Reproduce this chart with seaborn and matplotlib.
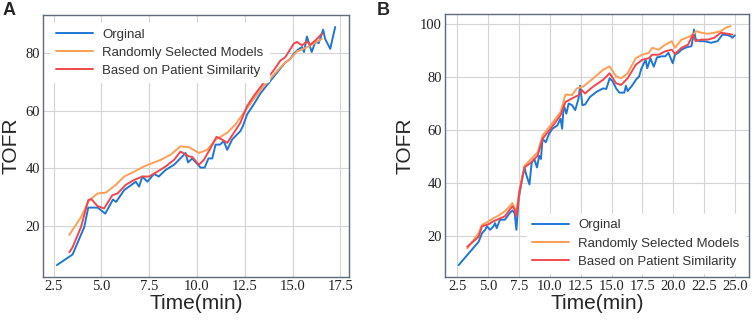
import numpy as np
import pandas as pd
import matplotlib
matplotlib.use("Agg")
import matplotlib.pyplot as plt
import seaborn as sns

# ---- Panel A data ----
a_orig_t = [2.67, 3.49, 4.1, 4.31, 4.8, 5.2, 5.6, 5.77, 6.19, 6.8, 6.97, 7.14, 7.4, 7.75, 8.0,
            8.36, 8.8, 9.23, 9.4, 9.53, 9.75, 10.19, 10.4, 10.6, 10.8, 10.97, 11.2, 11.4, 11.58,
            11.84, 12.27, 12.4, 12.62, 12.97, 13.32, 13.84, 14.27, 14.62, 14.88, 15.06, 15.28,
            15.5, 15.6, 15.75, 16.0, 16.19, 16.37, 16.6, 16.7, 16.97, 17.23]
a_orig_v = [6.3, 10.0, 19.5, 26.3, 26.3, 24.2, 29.1, 28.3, 32.4, 35.3, 33.6, 37.1, 35.3, 38.0, 37.1,
            39.4, 41.2, 44.1, 45.3, 42.0, 43.4, 40.2, 40.2, 43.4, 43.4, 48.2, 48.2, 49.4, 46.4,
            50.0, 52.9, 54.6, 58.7, 62.2, 66.0, 70.4, 73.9, 76.8, 78.0, 79.8, 81.2,
            82.1, 80.4, 85.8, 80.4, 83.9, 83.5, 88.2, 85.0, 81.5, 89.1]

a_rand_t = [3.32, 3.93, 4.36, 4.8, 5.23, 5.75, 6.19, 6.71, 7.23, 7.67, 8.1, 8.62, 9.14, 9.58,
            10.1, 10.53, 10.97, 11.58, 12.01, 12.45, 12.97, 13.5, 14.0, 14.54, 14.88, 15.23,
            15.67, 16.1, 16.54]
a_rand_v = [16.8, 23.0, 28.9, 31.2, 31.5, 34.2, 37.1, 38.8, 40.6, 41.8, 42.9, 44.7, 47.6, 47.3,
            45.3, 46.4, 49.9, 52.3, 55.2, 59.3, 64.0, 68.7, 72.4, 76.3, 78.0, 80.6,
            81.8, 83.3, 85.0]

a_sim_t = [3.32, 3.49, 3.93, 4.31, 4.48, 4.8, 5.14, 5.57, 5.84, 6.27, 6.71, 7.14, 7.49, 7.93,
           8.36, 8.8, 9.14, 9.58, 9.75, 10.1, 10.36, 10.71, 11.02, 11.32, 11.58, 11.93, 12.27,
           12.62, 12.97, 13.5, 14.0, 14.36, 14.62, 15.06, 15.23, 15.5, 15.75, 15.92, 16.19, 16.54]
a_sim_v = [10.8, 12.5, 19.5, 28.9, 29.2, 26.8, 26.0, 30.6, 31.2, 34.2, 35.9, 37.1, 37.1, 38.8,
           40.6, 42.9, 45.8, 44.1, 43.9, 41.2, 42.9, 47.0, 50.9, 49.9, 48.8, 52.3, 55.8,
           61.6, 65.1, 69.8, 73.9, 77.4, 78.6, 83.3, 83.9, 82.7, 84.1, 82.9, 84.4, 86.8]

# ---- Panel B data ----
b_orig_t = [2.6, 4.22, 4.49, 4.75, 4.89, 5.15, 5.42, 5.55, 5.68, 5.95, 6.35, 6.74, 6.96, 7.14,
            7.28, 7.46, 7.73, 7.94, 8.07, 8.34, 8.52, 8.73, 8.95, 9.13, 9.27, 9.4, 9.66, 9.93,
            10.2, 10.59, 10.86, 10.99, 11.12, 11.33, 11.52, 11.79, 12.05, 12.32, 12.45, 12.63,
            12.84, 13.25, 13.78, 14.3, 14.57, 14.84, 15.1, 15.37, 15.63, 16.03, 16.16, 16.3,
            16.7, 16.96, 17.23, 17.41, 17.76, 17.89, 18.15, 18.42, 18.68, 19.08, 19.35, 19.61,
            19.96, 20.14, 20.41, 20.67, 21.07, 21.47, 21.6, 21.68, 21.82, 22.13, 22.53, 23.06,
            23.59, 23.99, 24.39, 24.65, 24.79, 25.0]
b_orig_v = [9.0, 17.8, 21.0, 22.3, 23.6, 22.3, 23.6, 24.8, 22.9, 26.1, 26.1, 28.6, 29.6, 28.6,
            22.3, 33.7, 41.3, 45.8, 43.2, 39.4, 47.6, 49.0, 45.8, 50.2, 49.0, 56.6, 55.3, 58.5,
            60.4, 61.6, 64.2, 60.4, 69.3, 66.1, 69.9, 69.3, 67.4, 71.8, 76.6, 69.3,
            69.5, 72.4, 74.3, 75.6, 75.4, 79.4, 78.2, 75.6, 74.0, 74.0, 76.6, 74.6,
            76.9, 78.8, 80.1, 83.0, 86.4, 83.2, 86.9, 83.8, 87.3, 87.7, 87.7, 89.0,
            85.1, 88.3, 89.0, 90.2, 91.1, 91.5, 94.7, 97.8, 94.1, 93.4, 93.4, 92.8,
            93.4, 95.9, 95.7, 95.3, 94.7, 95.6]

b_rand_t = [3.3, 4.22, 4.49, 5.02, 5.42, 5.82, 6.35, 6.74, 6.96, 7.14, 7.28, 7.54, 7.94, 8.47,
            9.0, 9.4, 9.93, 10.46, 10.86, 11.26, 11.79, 12.18, 12.71, 13.51, 14.3, 14.84, 15.37,
            15.77, 16.3, 16.96, 17.49, 18.02, 18.29, 18.82, 19.35, 19.88, 20.14, 20.67, 21.2,
            21.6, 21.87, 22.27, 22.8, 23.33, 23.86, 24.26, 24.65]
b_rand_v = [15.3, 21.0, 24.2, 25.5, 26.7, 27.6, 29.3, 31.2, 32.4, 30.5, 29.3, 37.5, 46.4, 49.0,
            51.5, 57.8, 61.0, 64.2, 66.7, 73.3, 73.1, 75.6, 76.3, 79.4, 82.6, 83.9, 80.1,
            79.4, 81.3, 87.0, 88.3, 89.0, 90.9, 90.2, 92.1, 93.4, 90.9, 94.0, 94.9,
            95.9, 97.2, 96.6, 96.2, 96.6, 97.2, 98.5, 99.1]

b_sim_t = [3.3, 4.22, 4.49, 5.02, 5.42, 5.82, 6.35, 6.74, 6.96, 7.14, 7.28, 7.54, 7.94, 8.47,
           9.0, 9.4, 9.93, 10.46, 10.86, 11.26, 11.79, 12.32, 12.58, 12.84, 13.51, 14.3, 14.84,
           15.37, 15.77, 16.3, 16.96, 17.49, 18.02, 18.29, 18.82, 19.35, 19.88, 20.14, 20.67,
           21.2, 21.6, 21.82, 22.27, 22.8, 23.33, 23.86, 24.39, 24.79]
b_sim_v = [15.9, 19.7, 23.6, 24.4, 25.5, 26.3, 27.4, 29.9, 31.2, 29.9, 27.4, 36.9, 45.8, 47.7,
           50.2, 56.6, 59.7, 62.9, 65.5, 70.5, 71.8, 73.1, 75.0, 73.7, 76.3, 78.8, 81.3,
           77.5, 76.9, 79.4, 84.5, 86.4, 87.0, 88.3, 88.3, 89.6, 90.2, 88.6, 90.9,
           92.1, 95.9, 93.4, 94.0, 94.0, 94.7, 96.6, 96.2, 95.9]

labels = ["Orginal", "Randomly Selected Models", "Based on Patient Similarity"]
palette = {"Orginal": "#1f77d4", "Randomly Selected Models": "#ff9e55",
           "Based on Patient Similarity": "#f0474d"}


def make_df(series):
    frames = []
    for name, (t, v) in zip(labels, series):
        frames.append(pd.DataFrame({"time": t, "tofr": v, "model": name}))
    return pd.concat(frames, ignore_index=True)


df_a = make_df([(a_orig_t, a_orig_v), (a_rand_t, a_rand_v), (a_sim_t, a_sim_v)])
df_b = make_df([(b_orig_t, b_orig_v), (b_rand_t, b_rand_v), (b_sim_t, b_sim_v)])

sns.set_style("whitegrid", {"grid.color": "#d4d4d4", "axes.edgecolor": "#5f6b7a"})

fig = plt.figure(figsize=(7.54, 3.21), dpi=100)
ax_a = fig.add_axes([0.057, 0.137, 0.406, 0.816])
ax_b = fig.add_axes([0.590, 0.137, 0.403, 0.819])

for ax, df, loc, xt in [(ax_a, df_a, "upper left", np.arange(2.5, 17.6, 2.5)),
                        (ax_b, df_b, "lower right", np.arange(2.5, 25.1, 2.5))]:
    sns.lineplot(data=df, x="time", y="tofr", hue="model", hue_order=labels,
                 palette=palette, estimator=None, sort=False, linewidth=1.4, ax=ax)
    ax.set_xticks(xt)
    ax.set_xticklabels([f"{v:.1f}" for v in xt])
    ax.set_yticks([20, 40, 60, 80] + ([100] if ax is ax_b else []))
    for lab in ax.get_xticklabels() + ax.get_yticklabels():
        lab.set_fontfamily("Liberation Serif")
        lab.set_fontsize(10.5)
        lab.set_color("#222222")
    ax.tick_params(axis="both", pad=2, length=0)
    ax.set_xlabel("Time(min)", fontsize=15, family="Liberation Sans", labelpad=1)
    ax.set_ylabel("TOFR", fontsize=15, family="Liberation Sans", labelpad=4)
    for s in ax.spines.values():
        s.set_linewidth(1.0)
    pad = 0.6 if ax is ax_a else 0.3
    leg = ax.legend(loc=loc, frameon=True, handlelength=2.8, handletextpad=0.7,
                    prop={"family": "Liberation Sans", "size": 9.5},
                    borderaxespad=pad, labelspacing=0.45)
    for txt in leg.get_texts():
        txt.set_color("#333333")
    leg.get_frame().set_edgecolor("white")
    leg.get_frame().set_alpha(1.0)
    ax.margins(x=0.05, y=0.05)

fig.text(0.004, 0.995, "A", fontsize=13, fontweight="bold", va="top", ha="left",
         family="Liberation Sans")
fig.text(0.500, 0.995, "B", fontsize=13, fontweight="bold", va="top", ha="left",
         family="Liberation Sans")

fig.savefig("out.png", dpi=100)
